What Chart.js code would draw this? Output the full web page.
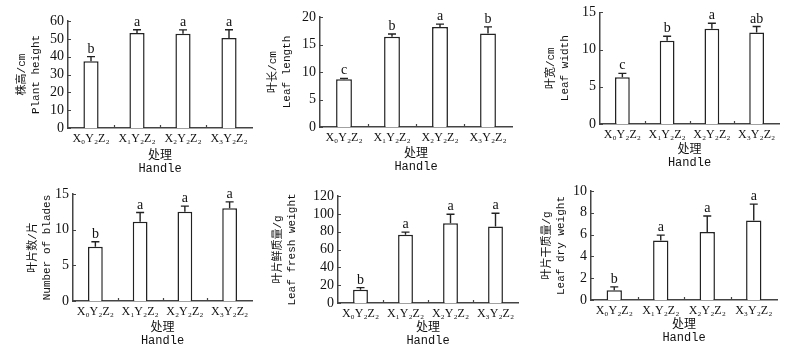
<!DOCTYPE html>
<html>
<head>
<meta charset="utf-8">
<script src="https://cdn.jsdelivr.net/npm/chart.js@4/dist/chart.umd.min.js"></script>
<style>
  html, body { margin: 0; background: #fff; }
  #wrap { position: relative; width: 800px; height: 349px; overflow: hidden; }
  #wrap canvas { position: absolute; }
</style>
</head>
<body>
<div id="wrap"></div>
<script>
const treatments = ['X₀Y₂Z₂', 'X₁Y₂Z₂', 'X₂Y₂Z₂', 'X₃Y₂Z₂'];

// means, standard errors and significance letters per trait
const plantHeight = [37.5, 53.3, 52.8, 50.5];
const plantHeightErr = [2.5, 1.8, 2.2, 4.6];
const plantHeightSig = ['b', 'a', 'a', 'a'];

const leafLength = [8.7, 16.4, 18.2, 17.0];
const leafLengthErr = [0.15, 0.5, 0.5, 1.2];
const leafLengthSig = ['c', 'b', 'a', 'b'];

const leafWidth = [6.3, 11.2, 12.8, 12.3];
const leafWidthErr = [0.5, 0.6, 0.75, 0.8];
const leafWidthSig = ['c', 'b', 'a', 'ab'];

const bladeCount = [7.6, 11.1, 12.5, 13.0];
const bladeCountErr = [0.7, 1.3, 0.8, 0.9];
const bladeCountSig = ['b', 'a', 'a', 'a'];

const freshWeight = [15.0, 76.5, 89.5, 85.7];
const freshWeightErr = [2.2, 3.0, 10.0, 15.0];
const freshWeightSig = ['b', 'a', 'a', 'a'];

const dryWeight = [0.9, 5.45, 6.25, 7.3];
const dryWeightErr = [0.3, 0.5, 1.45, 1.5];
const dryWeightSig = ['b', 'a', 'a', 'a'];

const xTitle = ['处理', 'Handle'];

// box = canvas [left, top, width, height]; area = plot [left, top, right, bottom]
const panels = [
  {values: plantHeight, errs: plantHeightErr, sig: plantHeightSig, yTitle: ['株高/cm', 'Plant height'],
   yMax: 60, yStep: 10, box: [0, 0, 256, 176], area: [68, 21, 252, 128], yTitlePad: 15.5, xTitlePad: 0.8},
  {values: leafLength, errs: leafLengthErr, sig: leafLengthSig, yTitle: ['叶长/cm', 'Leaf length'],
   yMax: 20, yStep: 5, box: [262, 0, 254, 176], area: [320, 17, 512, 127], yTitlePad: 4.5, xTitlePad: 2.8},
  {values: leafWidth, errs: leafWidthErr, sig: leafWidthSig, yTitle: ['叶宽/cm', 'Leaf width'],
   yMax: 15, yStep: 5, box: [530, 0, 254, 176], area: [600, 12, 779, 124], yTitlePad: 14.5, xTitlePad: 6.8},
  {values: bladeCount, errs: bladeCountErr, sig: bladeCountSig, yTitle: ['叶片数/片', 'Number of blades'],
   yMax: 15, yStep: 5, box: [0, 173, 256, 176], area: [73, 194, 252, 301], yTitlePad: 26.5, xTitlePad: 1.8},
  {values: freshWeight, errs: freshWeightErr, sig: freshWeightSig, yTitle: ['叶片鲜质量/g', 'Leaf fresh weight'],
   yMax: 120, yStep: 20, box: [262, 173, 260, 176], area: [338, 196, 518, 303], yTitlePad: 9.5, xTitlePad: 1.8},
  {values: dryWeight, errs: dryWeightErr, sig: dryWeightSig, yTitle: ['叶片干质量/g', 'Leaf dry weight'],
   yMax: 10, yStep: 2, box: [530, 173, 252, 176], area: [591, 191, 777, 300], yTitlePad: 10.5, xTitlePad: 4.8},
];

const INK = '#111';
const AXIS = '#444';
const SERIF = "'Liberation Serif', 'DejaVu Serif', serif";
const MIXED = "'Liberation Mono', 'Noto Sans CJK SC', monospace";

// error caps, significance letters and the short inward tick marks
const decorations = {
  id: 'decorations',
  afterDatasetsDraw(chart, args, opts) {
    const {ctx, scales: {x, y}, chartArea} = chart;
    ctx.save();
    ctx.strokeStyle = '#222';
    ctx.lineWidth = 1.4;
    ctx.fillStyle = INK;
    ctx.font = '14px ' + SERIF;
    ctx.textAlign = 'center';
    ctx.textBaseline = 'alphabetic';
    opts.values.forEach((v, i) => {
      const px = x.getPixelForValue(i);
      const base = y.getPixelForValue(v);
      const top = y.getPixelForValue(v + opts.errs[i]);
      ctx.beginPath();
      ctx.moveTo(px, base);
      ctx.lineTo(px, top);
      ctx.moveTo(px - 4, top);
      ctx.lineTo(px + 4, top);
      ctx.stroke();
      ctx.fillText(opts.sig[i], px, top - 4);
    });

    ctx.strokeStyle = AXIS;
    ctx.lineWidth = 1.2;
    ctx.beginPath();
    y.ticks.forEach((t, i) => {
      const py = Math.round(y.getPixelForTick(i)) + 0.5;
      ctx.moveTo(chartArea.left, py);
      ctx.lineTo(chartArea.left + 3, py);
    });
    for (let i = 0; i < opts.values.length - 1; i++) {
      const bx = Math.round((x.getPixelForValue(i) + x.getPixelForValue(i + 1)) / 2) + 0.5;
      ctx.moveTo(bx, chartArea.bottom);
      ctx.lineTo(bx, chartArea.bottom - 3);
    }
    ctx.stroke();
    ctx.restore();
  }
};

function buildPanel(p) {
  const [left, top, width, height] = p.box;
  const [aL, aT, aR, aB] = p.area;
  const canvas = document.createElement('canvas');
  canvas.width = width;
  canvas.height = height;
  canvas.style.left = left + 'px';
  canvas.style.top = top + 'px';
  document.getElementById('wrap').appendChild(canvas);

  const yWidth = aL - left;
  const xHeight = top + height - aB;

  return new Chart(canvas, {
    type: 'bar',
    data: {
      labels: treatments,
      datasets: [{
        data: p.values,
        backgroundColor: '#fff',
        borderColor: '#222',
        borderWidth: 1.5,
        barPercentage: 0.33,
        categoryPercentage: 1,
      }]
    },
    options: {
      responsive: false,
      devicePixelRatio: 1,
      animation: false,
      layout: {padding: {left: 0, top: aT - top, right: left + width - aR, bottom: 0}},
      plugins: {
        legend: {display: false},
        tooltip: {enabled: false},
        decorations: {values: p.values, errs: p.errs, sig: p.sig},
      },
      scales: {
        x: {
          offset: true,
          grid: {display: false, drawTicks: false},
          border: {display: true, color: AXIS, width: 1.5},
          ticks: {color: INK, padding: 4, font: {family: SERIF, size: 12}, maxRotation: 0, autoSkip: false},
          title: {display: true, text: xTitle, color: INK,
                  font: {family: MIXED, size: 12, lineHeight: 1.1},
                  padding: {top: 0, bottom: p.xTitlePad}},
          afterFit: s => { s.height = xHeight; },
        },
        y: {
          min: 0,
          max: p.yMax,
          grid: {display: false, drawTicks: false},
          border: {display: true, color: AXIS, width: 1.5},
          ticks: {stepSize: p.yStep, color: INK, padding: 4, autoSkip: false,
                  font: {family: SERIF, size: 14}},
          title: {display: true, text: p.yTitle, color: INK,
                  font: {family: MIXED, size: 11, lineHeight: 1.25},
                  padding: {top: p.yTitlePad, bottom: 0}},
          afterFit: s => { s.width = yWidth; },
        }
      }
    },
    plugins: [decorations]
  });
}

panels.forEach(buildPanel);
</script>
</body>
</html>
